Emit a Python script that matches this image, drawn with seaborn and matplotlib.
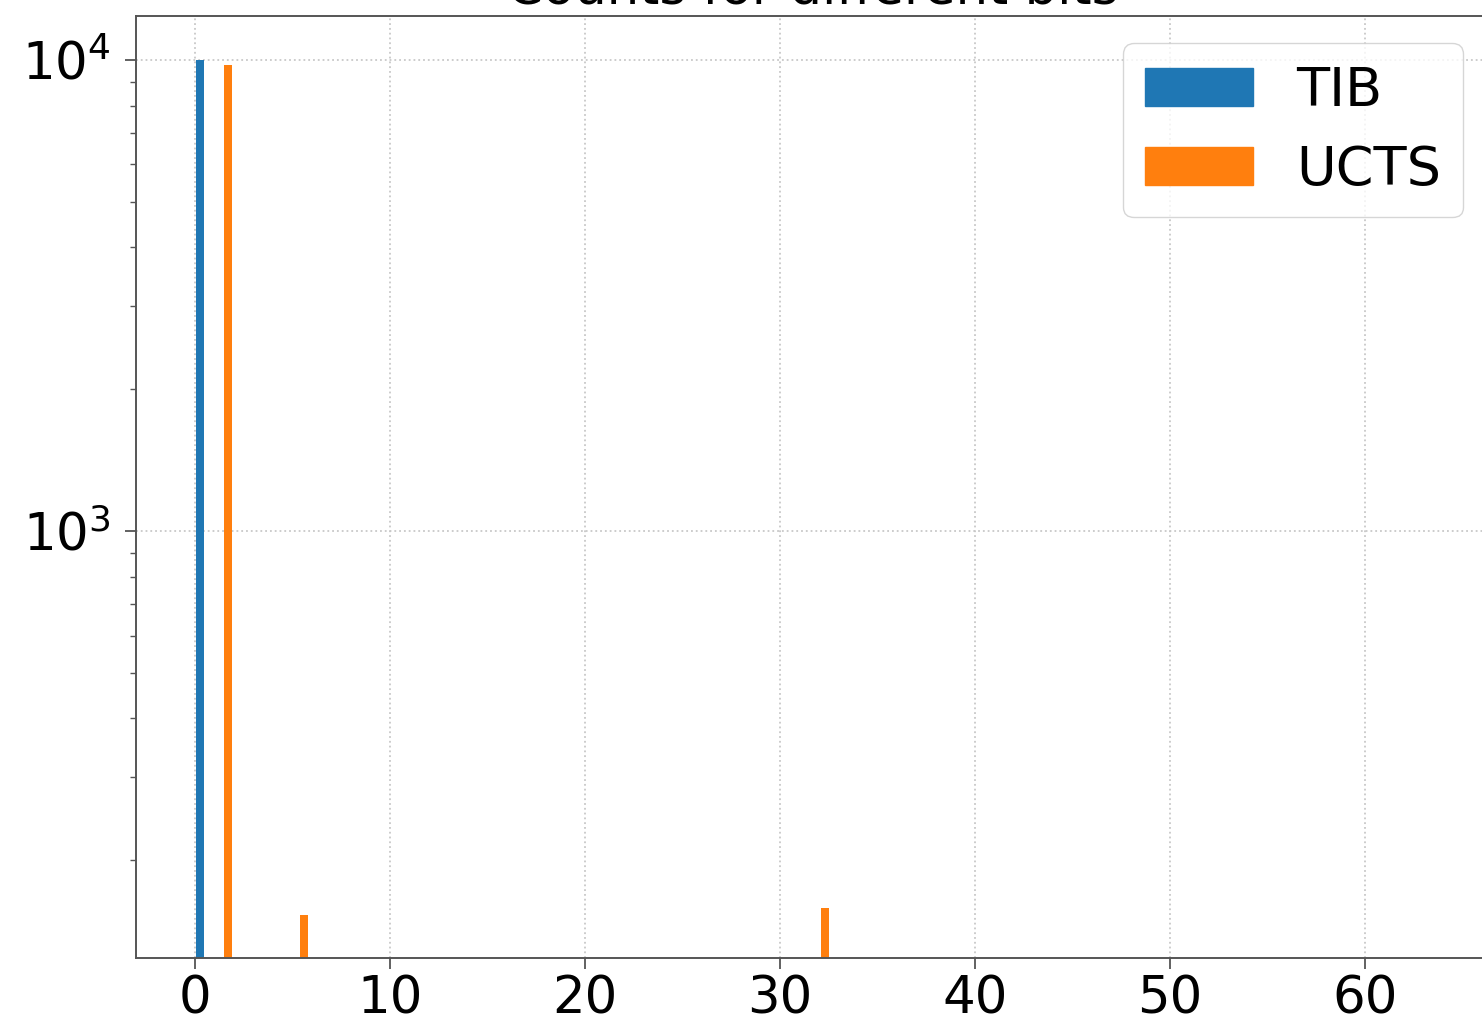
import numpy as np
import pandas as pd
import matplotlib
matplotlib.use("Agg")
import matplotlib.pyplot as plt
from matplotlib.patches import Patch
import seaborn as sns

# values (bar centre on the bit axis, count)
tib_bits = [0.26]
tib_counts = [10000]
ucts_bits = [1.67, 5.58, 32.3]
ucts_counts = [9760, 153, 158]
series = ['TIB', 'UCTS']
colors = ['#1f77b4', '#ff7f0e']
x_ticks = [0, 10, 20, 30, 40, 50, 60]

df = pd.DataFrame({
    'bit': tib_bits + ucts_bits,
    'count': tib_counts + ucts_counts,
    'series': ['TIB'] * len(tib_bits) + ['UCTS'] * len(ucts_bits),
})

sns.set_style('white', {'text.color': 'black', 'axes.labelcolor': 'black'})
plt.rcParams['font.family'] = ['DejaVu Sans']
fs = 37

fig = plt.figure(figsize=(14.82, 10.23), dpi=100)
ax = fig.add_axes([0.0918, 0.0635, 0.9136, 0.9209])

bar_w = 0.42
min_gap = np.diff(np.unique(df['bit'])).min()
sns.barplot(data=df, x='bit', y='count', hue='series', hue_order=series,
            palette=colors, native_scale=True, dodge=False,
            width=bar_w / min_gap, errorbar=None, saturation=1,
            linewidth=0, legend=False, ax=ax)

ax.set_yscale('log')
ax.set_ylim(124, 12400)
ax.set_xlim(-3.03, 66.4)
ax.set_xticks(x_ticks)
ax.set_xlabel('')
ax.set_ylabel('')
# the title sits mostly above the top edge, as in the cropped original
ax.set_title('Counts for different bits', fontsize=fs, pad=9, color='black')

ax.grid(True, which='major', linestyle=':', color='#c8c8c8', linewidth=1.3)
for s in ax.spines.values():
    s.set_color('#555555')
    s.set_linewidth(1.4)
ax.tick_params(which='major', length=8, width=1.3, labelsize=fs, pad=4,
               color='#555555', labelcolor='black', left=True, bottom=True)
ax.tick_params(axis='y', which='major', pad=10)
ax.tick_params(which='minor', length=4.5, width=1.0, color='#555555', left=True)

handles = [Patch(color=c) for c in colors]
leg = ax.legend(handles, series, loc='upper right', fontsize=39)
for t in leg.get_texts():
    t.set_color('black')

fig.savefig('out.png', dpi=100)
